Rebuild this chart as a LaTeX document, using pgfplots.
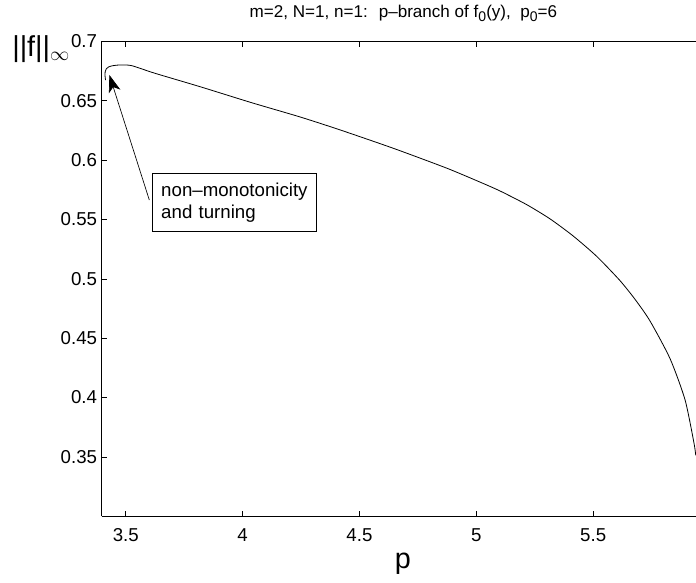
\documentclass[border=0pt]{standalone}
\usepackage{fontspec}
\setmainfont{Liberation Sans}
\usepackage{pgfplots}
\pgfplotsset{compat=1.18}
\usetikzlibrary{arrows.meta}
\begin{document}
\begin{tikzpicture}
\begin{axis}[
  scale only axis, width=445.7pt, height=356.1pt,
  at={(0,0)}, anchor=south west,
  xmin=3.3973, xmax=5.94, ymin=0.3, ymax=0.7,
  axis x line*=box, axis y line*=left,
  axis line style={line width=0.9pt, black},
  tick align=inside, major tick length=4pt,
  tick style={black, line width=0.5pt},
  xtick={3.5,4,4.5,5,5.5}, xticklabels={3.5,4,4.5,5,5.5},
  ytick={0.35,0.4,0.45,0.5,0.55,0.6,0.65,0.7},
  yticklabels={0.35,0.4,0.45,0.5,0.55,0.6,0.65,0.7},
  ticklabel style={font=\fontsize{14}{16}\selectfont},
  xticklabel style={yshift=-5.5pt},
  title={m=2, N=1, n=1:~ p–branch of f\raisebox{-0.45ex}{\fontsize{10.5}{12}\selectfont 0}(y),~ p\raisebox{-0.45ex}{\fontsize{10.5}{12}\selectfont 0}=6},
  title style={at={(rel axis cs:0.5,1)}, anchor=base, yshift=12.2pt, xshift=3.4pt, font=\fontsize{12.8}{14}\selectfont},
  xlabel={p},
  xlabel style={at={(rel axis cs:0.5,0)}, anchor=base, yshift=-38.8pt, xshift=3pt, font=\fontsize{21.6}{24}\selectfont},
  ylabel={||f||$_{\infty}$},
  ylabel style={rotate=-90, at={(rel axis cs:0,1)}, anchor=base west, inner sep=0pt, xshift=-67.3pt, yshift=-11.4pt, font=\fontsize{21.6}{24}\selectfont},
]
\addplot[black, line width=0.6pt, smooth, tension=0.4] coordinates {
(3.4135,0.6675) (3.4115,0.6710) (3.4120,0.6745) (3.4170,0.6770) (3.4270,0.6786)
(3.4400,0.6794) (3.4600,0.6800) (3.4830,0.6802) (3.5260,0.6796) (3.6250,0.6732)
(3.8180,0.6619) (4.0390,0.6484) (4.2460,0.6364) (4.4170,0.6255) (4.6450,0.6100)
(4.8730,0.5933) (5.0150,0.5816) (5.1010,0.5741) (5.2150,0.5626) (5.3150,0.5506)
(5.4140,0.5362) (5.5150,0.5190) (5.6140,0.4987) (5.6790,0.4828) (5.7430,0.4646)
(5.8290,0.4328) (5.8930,0.3982) (5.9310,0.3621) (5.9390,0.3513)
};
\draw[black, line width=0.5pt, -{Stealth[length=13pt, width=9pt, inset=3.5pt]}] (axis cs:3.601,0.5664) -- (axis cs:3.430,0.6718);
\node[draw=black, line width=0.5pt, fill=white, anchor=north west, minimum width=122.8pt, minimum height=43.3pt, text width=110pt, inner xsep=6.4pt, align=left, font=\fontsize{14}{16.5}\selectfont] at (axis cs:3.614,0.5889) {non–monotonicity\\and turning};
\end{axis}
\pgfresetboundingbox
\useasboundingbox (-76.3pt,-49.3pt) rectangle (445.7pt,387.2pt);
\end{tikzpicture}
\end{document}
